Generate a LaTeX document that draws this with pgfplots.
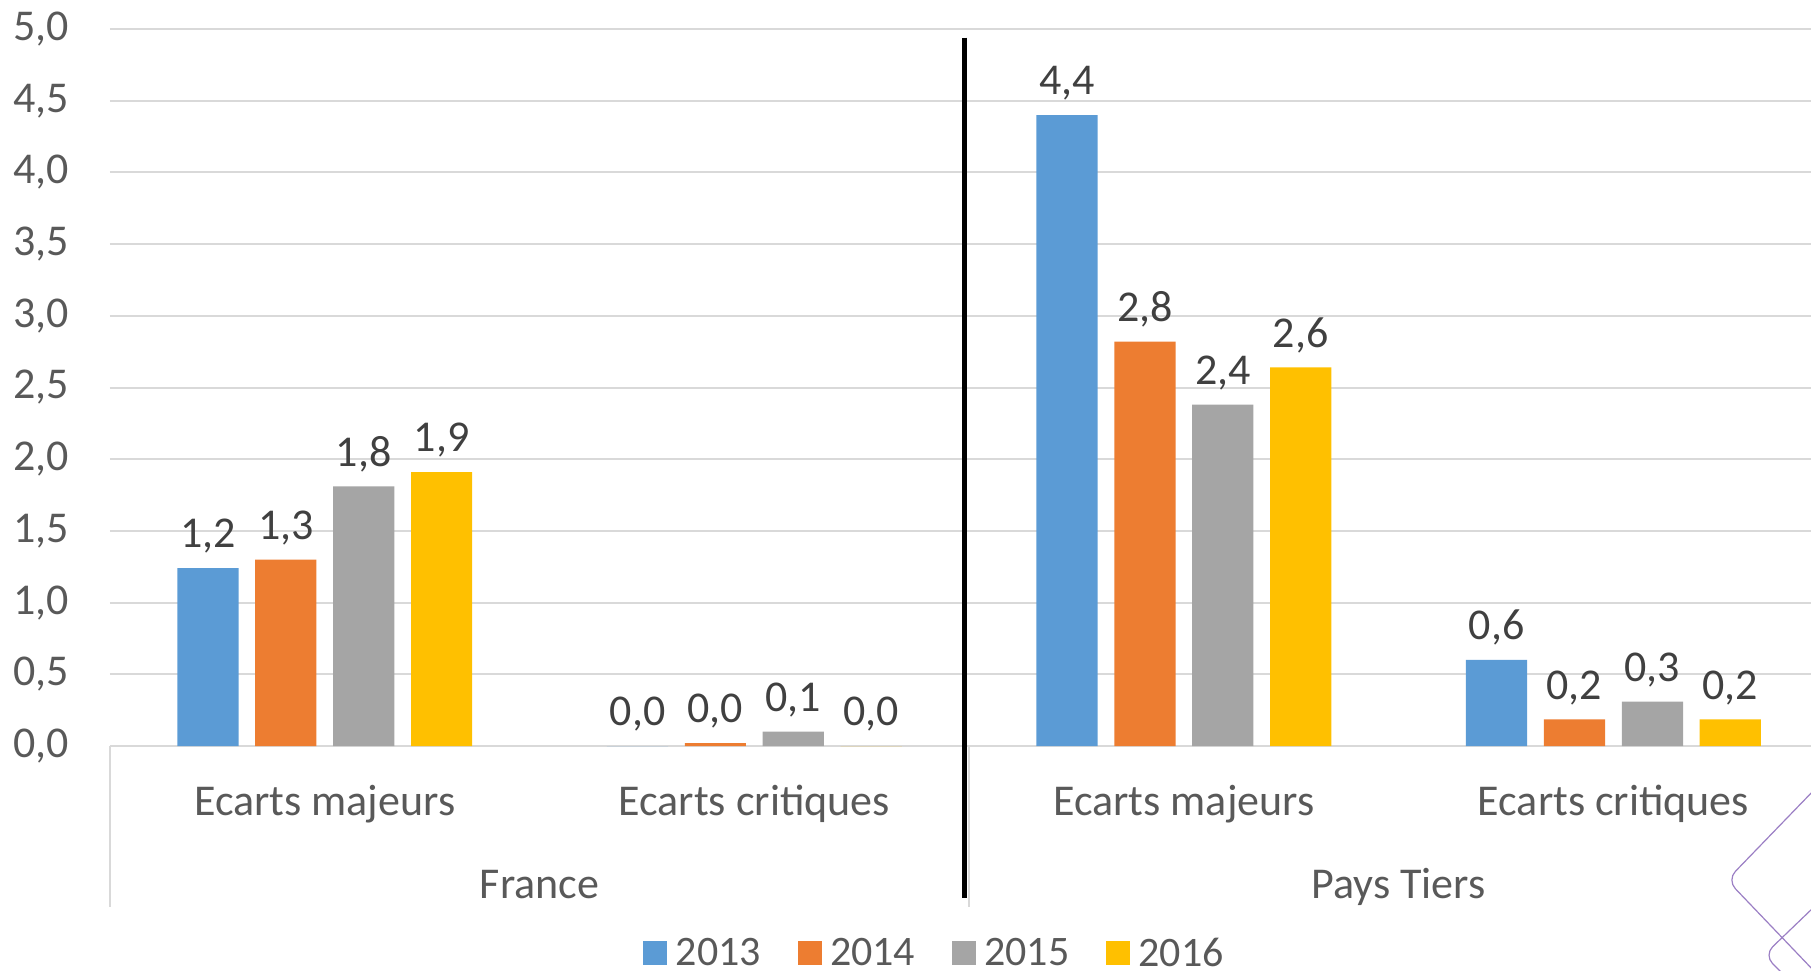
\documentclass[border=0pt]{standalone}
\usepackage{pgfplots}
\pgfplotsset{compat=1.18}
\usepackage{fontspec}
\setmainfont{Carlito}
\usetikzlibrary{calc}
\definecolor{c13}{HTML}{5B9BD5}
\definecolor{c14}{HTML}{ED7D31}
\definecolor{c15}{HTML}{A5A5A5}
\definecolor{c16}{HTML}{FFC000}
\definecolor{gridc}{HTML}{D9D9D9}
\definecolor{tickc}{HTML}{595959}
\definecolor{labc}{HTML}{404040}
\definecolor{deco}{HTML}{9B7FC4}
\newcommand{\bigf}{\fontsize{22}{26}\selectfont}
\newcommand{\legf}{\fontsize{21}{25}\selectfont}
\pgfplotsset{sqleg/.style={legend image code/.code={\fill[##1] (0pt,-5.5pt) rectangle (12pt,6.5pt);}}}
\begin{document}
\begin{tikzpicture}
\begin{axis}[
  name=ax, scale only axis, width=850.5pt, height=358.5pt,
  xmin=-0.5, xmax=3.46, ymin=0, ymax=5,
  clip=false,
  axis line style={draw=none},
  ymajorgrids, grid style={color=gridc, line width=1pt},
  ytick={0,0.5,1,1.5,2,2.5,3,3.5,4,4.5,5},
  major tick length=0pt,
  /pgf/number format/assume math mode=true,
  yticklabel style={/pgf/number format/.cd, fixed, fixed zerofill, precision=1, use comma, assume math mode=true, /tikz/.cd, font=\bigf, text=tickc, inner sep=0pt, xshift=-20.5pt, anchor=east},
  xtick={0,1,2,3},
  xticklabels={Ecarts majeurs, Ecarts critiques, Ecarts majeurs, Ecarts critiques},
  xticklabel style={font=\bigf, text=tickc, anchor=base, inner sep=0pt, yshift=-34.5pt},
  ybar, bar width=0.1425,
  nodes near coords={\pgfmathprintnumber[fixed,fixed zerofill,precision=1,use comma,assume math mode=true]{\pgfplotspointmeta}},
  nodes near coords style={font=\bigf, text=labc, anchor=south, inner sep=0pt, text depth=0pt, yshift=10pt},
  legend style={at={(0.4841,-0.2897)}, anchor=center, draw=none, fill=none, legend columns=4, font=\legf, text=tickc,
    /tikz/every odd column/.append style={column sep=4.3pt},
    /tikz/every even column/.append style={column sep=18.2pt},
    nodes={inner sep=0pt}},
]
\addplot[fill=c13, draw=none, bar shift=-0.272, sqleg] coordinates {(0,1.24) (1,0) (2,4.40) (3,0.60)};
\addplot[fill=c14, draw=none, bar shift=-0.0907, sqleg] coordinates {(0,1.30) (1,0.02) (2,2.82) (3,0.185)};
\addplot[fill=c15, draw=none, bar shift=0.0907, sqleg] coordinates {(0,1.81) (1,0.10) (2,2.38) (3,0.31)};
\addplot[fill=c16, draw=none, bar shift=0.272, sqleg] coordinates {(0,1.91) (1,0) (2,2.64) (3,0.185)};
\legend{2013,2014,2015,2016}
\draw[gridc, line width=1pt] (axis cs:-0.5,0) -- ($(axis cs:-0.5,0)+(0pt,-80.5pt)$);
\draw[gridc, line width=1pt] (axis cs:1.5,0) -- ($(axis cs:1.5,0)+(0pt,-80.5pt)$);
\draw[black, line width=2.5pt] (axis cs:1.49,4.94) -- ($(axis cs:1.49,0)+(0pt,-76pt)$);
\node[anchor=base, font=\bigf, text=tickc, inner sep=0pt] at ($(axis cs:0.5,0)+(0pt,-76pt)$) {France};
\node[anchor=base, font=\bigf, text=tickc, inner sep=0pt] at ($(axis cs:2.5,0)+(0pt,-76pt)$) {Pays Tiers};
\end{axis}
\begin{scope}[shift={(ax.south west)}]
\draw[deco, line width=0.6pt, rounded corners=6pt] (852.5pt,-21.5pt) -- (808.5pt,-67pt) -- (852.5pt,-113pt);
\draw[deco, line width=0.6pt, rounded corners=6pt] (852.5pt,-80pt) -- (827pt,-104.5pt) -- (836pt,-113.5pt);
\end{scope}
\pgfresetboundingbox
\path ($(ax.south west)+(-55pt,-112pt)$) rectangle ($(ax.north east)+(0pt,14.5pt)$);
\end{tikzpicture}
\end{document}
